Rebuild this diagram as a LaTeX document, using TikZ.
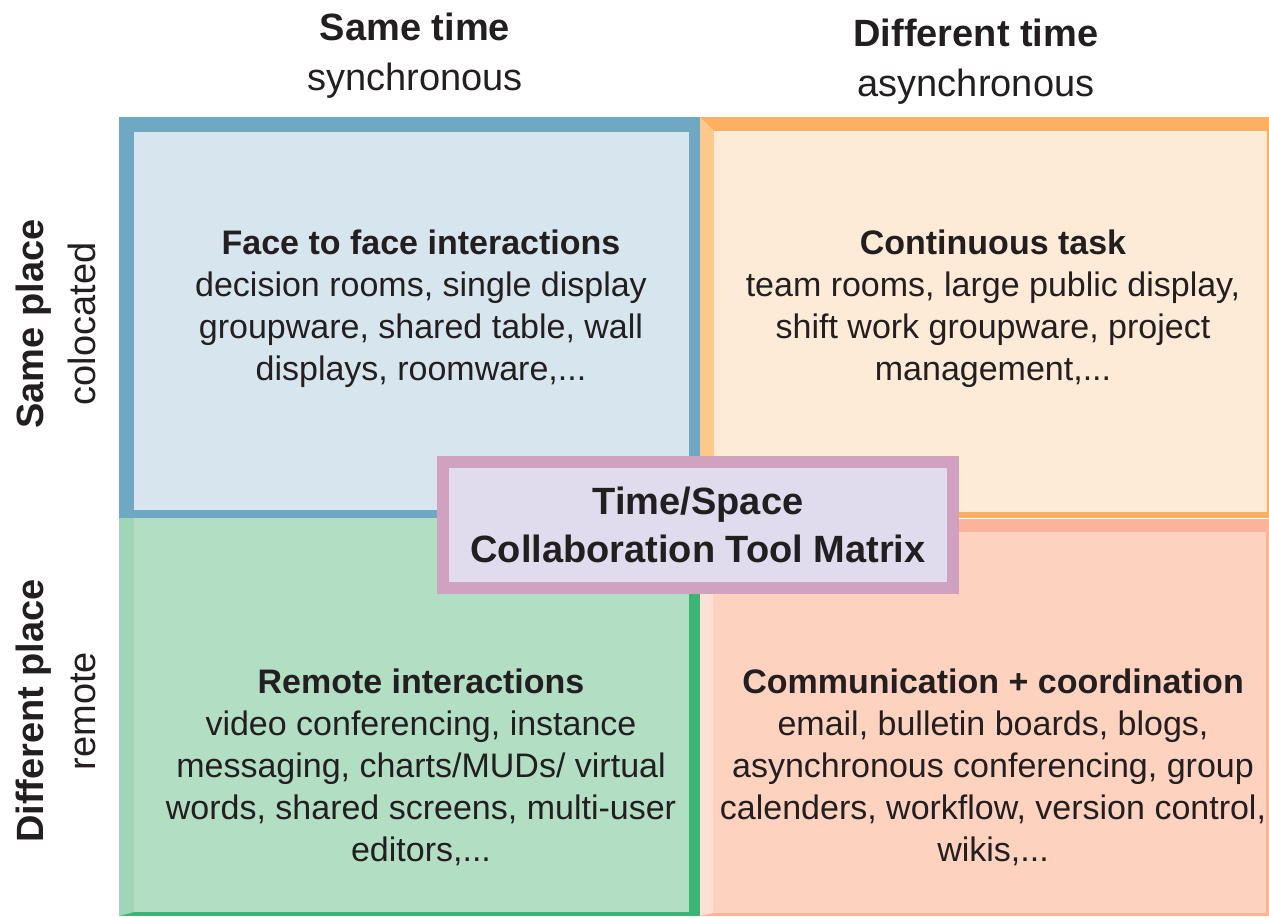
\documentclass[tikz,border=0pt]{standalone}
\usepackage{fontspec}
\setmainfont{Liberation Sans}
\usepackage{tikz}
\definecolor{inkcol}{HTML}{231F20}
\definecolor{blueedge}{HTML}{6EA8C3}
\definecolor{bluefill}{HTML}{D7E6EE}
\definecolor{orangeedge}{HTML}{FDB062}
\definecolor{orangeside}{HTML}{FDC98B}
\definecolor{orangefill}{HTML}{FEEBD7}
\definecolor{greenedge}{HTML}{3BB575}
\definecolor{greenside}{HTML}{9FD7B6}
\definecolor{greenfill}{HTML}{B2DEC3}
\definecolor{salmonedge}{HTML}{FBB49B}
\definecolor{salmonside}{HTML}{FEE1D4}
\definecolor{salmonfill}{HTML}{FDD2BF}
\definecolor{matrixedge}{HTML}{D0A2BF}
\definecolor{matrixfill}{HTML}{E0DCED}
\tikzset{
	headstyle/.style={align=center,text=inkcol,font=\fontsize{19pt}{25pt}\selectfont},
	sidestyle/.style={headstyle,rotate=90,font=\fontsize{19pt}{26pt}\selectfont},
	cellstyle/.style={align=center,text=inkcol,font=\fontsize{17pt}{21pt}\selectfont},
	matrixstyle/.style={rectangle,draw=matrixedge,line width=6pt,fill=matrixfill,text=inkcol,
		align=center,minimum width=255pt,minimum height=63pt,font=\fontsize{19pt}{24pt}\selectfont}
}
\begin{document}
\begin{tikzpicture}[x=0.5pt,y=-0.5pt]
		\useasboundingbox (0,0) rectangle (1269,916);
		\fill[blueedge] (119,117) rectangle (700,518);
		\fill[bluefill] (134,132) rectangle (689,510);
		\fill[orangeedge] (700,117) rectangle (1269,518);
		\fill[orangeside] (700,117) -- (714,131) -- (714,512) -- (700,518) -- cycle;
		\fill[orangefill] (714,131) rectangle (1267,512);
		\fill[greenedge] (119,518) rectangle (700,916);
		\fill[greenside] (119,518) -- (134,518) -- (134,912) -- (119,916) -- cycle;
		\fill[greenfill] (134,518) rectangle (689,912);
		\fill[salmonedge] (700,519) rectangle (1269,916);
		\fill[salmonside] (700,519) -- (713,532) -- (713,913) -- (700,916) -- cycle;
		\fill[salmonfill] (713,532) rectangle (1266,913);
		\node[headstyle] (sametime) at (415,56) {\textbf{Same time}\\synchronous};
		\node[headstyle] (difftime) at (976,62) {\textbf{Different time}\\asynchronous};
		\node[sidestyle] (sameplace) at (56,324) {\textbf{Same place}\\colocated};
		\node[sidestyle] (diffplace) at (56,711) {\textbf{Different place}\\remote};
		\node[cellstyle] (facetoface) at (421,309) {\textbf{Face to face interactions}\\decision rooms, single display\\groupware, shared table, wall\\displays, roomware,...};
		\node[cellstyle] (continuous) at (993,309) {\textbf{Continuous task}\\team rooms, large public display,\\shift work groupware, project\\management,...};
		\node[cellstyle] (remote) at (421,767) {\textbf{Remote interactions}\\video conferencing, instance\\messaging, charts/MUDs/ virtual\\words, shared screens, multi-user\\editors,...};
		\node[cellstyle] (commcoord) at (993,767) {\textbf{Communication + coordination}\\email, bulletin boards, blogs,\\asynchronous conferencing, group\\calenders, workflow, version control,\\wikis,...};
		\node[matrixstyle] (matrix) at (698,525) {\textbf{Time/Space}\\\textbf{Collaboration Tool Matrix}};
		\end{tikzpicture}
\end{document}
